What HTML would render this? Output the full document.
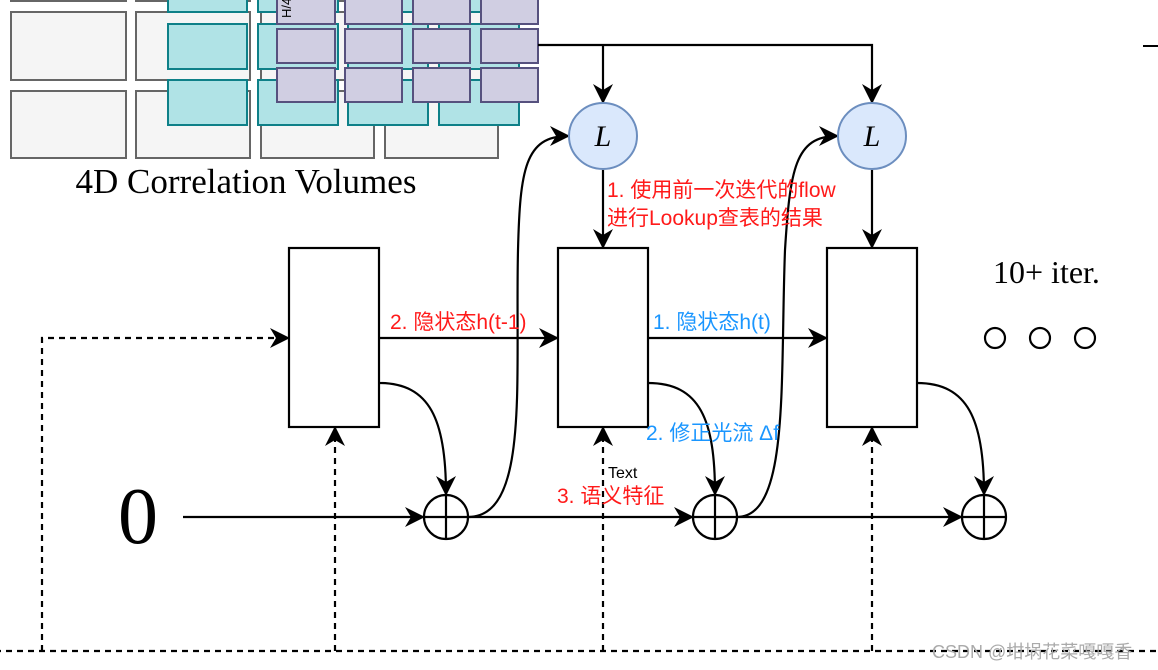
<!DOCTYPE html>
<html><head><meta charset="utf-8"><style>
html,body{margin:0;padding:0;background:#fff;width:1158px;height:670px;overflow:hidden}
svg{display:block}
</style></head><body>
<svg width="1158" height="670" viewBox="0 0 1158 670" xmlns="http://www.w3.org/2000/svg">
<defs>
<marker id="ab" viewBox="0 0 10 10" refX="9" refY="5" markerWidth="22" markerHeight="20" markerUnits="userSpaceOnUse" orient="auto"><path d="M0,0 L10,5 L0,10 L3,5 z" fill="#000"/></marker>
</defs>
<g fill="#f5f5f5" stroke="#666" stroke-width="2">
<rect x="11" y="-20" width="115" height="21"/><rect x="136" y="-20" width="114" height="21"/><rect x="261" y="-20" width="113" height="21"/><rect x="385" y="-20" width="113" height="21"/>
<rect x="11" y="12" width="115" height="68"/><rect x="136" y="12" width="114" height="68"/><rect x="261" y="12" width="113" height="68"/><rect x="385" y="12" width="113" height="68"/>
<rect x="11" y="91" width="115" height="67"/><rect x="136" y="91" width="114" height="67"/><rect x="261" y="91" width="113" height="67"/><rect x="385" y="91" width="113" height="67"/>
</g>
<g fill="#b0e3e6" stroke="#0e8088" stroke-width="2">
<rect x="168" y="-20" width="79" height="32"/><rect x="258" y="-20" width="80" height="32"/><rect x="348" y="-20" width="80" height="32"/><rect x="439" y="-20" width="80" height="32"/>
<rect x="168" y="24" width="79" height="45"/><rect x="258" y="24" width="80" height="45"/><rect x="348" y="24" width="80" height="45"/><rect x="439" y="24" width="80" height="45"/>
<rect x="168" y="80" width="79" height="45"/><rect x="258" y="80" width="80" height="45"/><rect x="348" y="80" width="80" height="45"/><rect x="439" y="80" width="80" height="45"/>
</g>
<g fill="#d0cee2" stroke="#56517e" stroke-width="2">
<rect x="277" y="-20" width="58" height="44"/><rect x="345" y="-20" width="57" height="44"/><rect x="413" y="-20" width="57" height="44"/><rect x="481" y="-20" width="57" height="44"/>
<rect x="277" y="29" width="58" height="34"/><rect x="345" y="29" width="57" height="34"/><rect x="413" y="29" width="57" height="34"/><rect x="481" y="29" width="57" height="34"/>
<rect x="277" y="68" width="58" height="34"/><rect x="345" y="68" width="57" height="34"/><rect x="413" y="68" width="57" height="34"/><rect x="481" y="68" width="57" height="34"/>
</g>
<text x="291" y="18" transform="rotate(-90 291 18)" font-family="Liberation Sans" font-size="13">H/4 W/4</text>
<text x="246" y="193" text-anchor="middle" font-family="Liberation Serif,serif" font-size="35">4D Correlation Volumes</text>
<g stroke="#000" stroke-width="2.2" fill="none">
<path d="M538,45 H872 V102" marker-end="url(#ab)"/>
<path d="M603,45 V102" marker-end="url(#ab)"/>
<path d="M603,170 V247" marker-end="url(#ab)"/>
<path d="M872,170 V247" marker-end="url(#ab)"/>
<path d="M379,338 H557" marker-end="url(#ab)"/>
<path d="M648,338 H826" marker-end="url(#ab)"/>
<path d="M183,517 H423" marker-end="url(#ab)"/>
<path d="M468,517 H692" marker-end="url(#ab)"/>
<path d="M737,517 H961" marker-end="url(#ab)"/>
<path d="M379,383 C430,383 446,420 446,494" marker-end="url(#ab)"/>
<path d="M648,383 C700,383 715,420 715,494" marker-end="url(#ab)"/>
<path d="M917,383 C968,383 984,420 984,494" marker-end="url(#ab)"/>
<path d="M468,517 C530,517 515,380 518,250 C520,170 525,136 568,136" marker-end="url(#ab)"/>
<path d="M737,517 C790,517 780,380 785,250 C790,170 795,136 837,136" marker-end="url(#ab)"/>
<rect x="289" y="248" width="90" height="179" fill="#fff"/>
<rect x="558" y="248" width="90" height="179" fill="#fff"/>
<rect x="827" y="248" width="90" height="179" fill="#fff"/>
</g>
<g stroke="#000" stroke-width="2.2" fill="none" stroke-dasharray="6,5">
<path d="M-5,651 H1158"/>
<path d="M42,651 V338 H288" marker-end="url(#ab)"/>
<path d="M335,651 V428" marker-end="url(#ab)"/>
<path d="M603,651 V428" marker-end="url(#ab)"/>
<path d="M872,651 V428" marker-end="url(#ab)"/>
</g>
<g fill="#dae8fc" stroke="#6c8ebf" stroke-width="2">
<ellipse cx="603" cy="136" rx="34" ry="33"/><ellipse cx="872" cy="136" rx="34" ry="33"/>
</g>
<g font-family="Liberation Serif,serif" font-style="italic" font-size="30" text-anchor="middle">
<text x="603" y="146">L</text><text x="872" y="146">L</text>
</g>
<g stroke="#000" stroke-width="2.2" fill="#fff">
<ellipse cx="446" cy="517" rx="22" ry="22"/><path d="M424,517 H468 M446,495 V539"/>
<ellipse cx="715" cy="517" rx="22" ry="22"/><path d="M693,517 H737 M715,495 V539"/>
<ellipse cx="984" cy="517" rx="22" ry="22"/><path d="M962,517 H1006 M984,495 V539"/>
<circle cx="995" cy="338" r="10"/><circle cx="1040" cy="338" r="10"/><circle cx="1085" cy="338" r="10"/>
</g>
<path d="M1143,46 H1158" stroke="#000" stroke-width="2"/>
<text x="138" y="543" text-anchor="middle" font-family="Liberation Serif,serif" font-size="80">0</text>
<text x="993" y="283" font-family="Liberation Serif,serif" font-size="32">10+ iter.</text>
<g font-family="Liberation Sans,Noto Sans CJK SC,sans-serif">
<text x="607" y="197" fill="#ff1a1a" font-size="21">1. 使用前一次迭代的flow</text>
<text x="607" y="225" fill="#ff1a1a" font-size="21">进行Lookup查表的结果</text>
<text x="390" y="329" fill="#ff1a1a" font-size="21">2. 隐状态h(t-1)</text>
<text x="653" y="329" fill="#1a96ff" font-size="21">1. 隐状态h(t)</text>
<text x="646" y="440" fill="#1a96ff" font-size="21">2. 修正光流 Δf</text>
<text x="557" y="503" fill="#ff1a1a" font-size="21">3. 语义特征</text>
<text x="608" y="478" fill="#000" font-size="16">Text</text>
<text x="932" y="658" fill="#aaa" font-size="18">CSDN @坩埚花菜嘎嘎香</text>
</g>
</svg>
</body></html>
